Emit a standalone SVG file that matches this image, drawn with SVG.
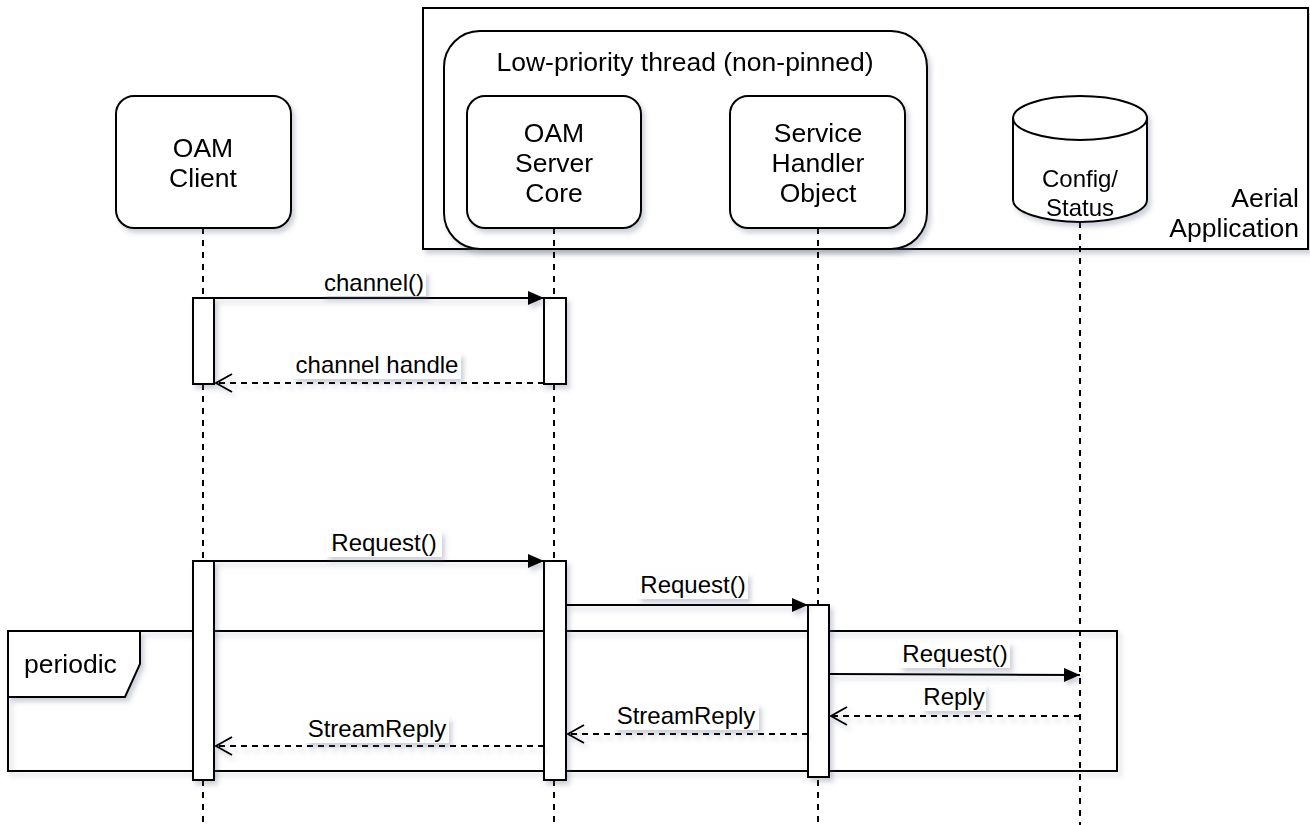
<svg xmlns="http://www.w3.org/2000/svg" width="1310" height="825" viewBox="0 0 1310 825">
  <defs>
    <filter id="shadow" x="-10%" y="-10%" width="130%" height="130%">
      <feDropShadow dx="3" dy="4" stdDeviation="2.5" flood-color="#5a6480" flood-opacity="0.3"/>
    </filter>
    <marker id="block" viewBox="0 0 16 14" refX="16" refY="7" markerWidth="16" markerHeight="14" markerUnits="userSpaceOnUse" orient="auto">
      <path d="M0,0 L16,7 L0,14 Z" fill="#000"/>
    </marker>
    <marker id="open" viewBox="0 0 18 20" refX="17" refY="10" markerWidth="18" markerHeight="20" markerUnits="userSpaceOnUse" orient="auto">
      <path d="M1,1 L17,10 L1,19" fill="none" stroke="#000" stroke-width="2"/>
    </marker>
  </defs>
  <style>
    .box { fill: #fff; stroke: #000; stroke-width: 2; }
    .life { fill: none; stroke: #000; stroke-width: 2; stroke-dasharray: 6 6; }
    .bar { fill: #fff; stroke: #000; stroke-width: 2; }
    .msg { fill: none; stroke: #000; stroke-width: 2; }
    .ret { fill: none; stroke: #000; stroke-width: 2; stroke-dasharray: 6 5; }
    .node { font-family: "Liberation Sans", Arial, Helvetica, sans-serif; font-size: 26.5px; fill: #000; text-anchor: middle; }
    .lbl { font-family: "Liberation Sans", Arial, Helvetica, sans-serif; font-size: 24px; fill: #000; text-anchor: middle; }
    .lblbg { fill: #fff; stroke: none; }
    .sh { filter: url(#shadow); }
  </style>

  <rect width="1310" height="825" fill="#fff"/>

  <!-- application container -->
  <g id="aerial-application" class="sh">
    <rect class="box" x="423" y="8" width="885" height="241"/>
    <text class="node" x="1299" y="207" style="text-anchor:end">Aerial</text>
    <text class="node" x="1299" y="237" style="text-anchor:end">Application</text>
  </g>

  <g id="low-priority-thread" class="sh">
    <rect class="box" x="444" y="31" width="483" height="218" rx="36" ry="36"/>
    <text class="node" x="685" y="71">Low-priority thread (non-pinned)</text>
  </g>

  <!-- lifelines -->
  <g id="lifelines">
    <line class="life" x1="203" y1="228" x2="203" y2="825"/>
    <line class="life" x1="554" y1="228" x2="554" y2="825"/>
    <line class="life" x1="818" y1="228" x2="818" y2="825"/>
    <line class="life" x1="1080" y1="222" x2="1080" y2="825"/>
  </g>

  <g id="oam-client" class="sh">
    <rect class="box" x="116" y="96" width="175" height="132" rx="18" ry="18"/>
    <text class="node" x="203" y="157">OAM</text>
    <text class="node" x="203" y="187">Client</text>
  </g>

  <g id="oam-server-core" class="sh">
    <rect class="box" x="467" y="96" width="174" height="132" rx="18" ry="18"/>
    <text class="node" x="554" y="142">OAM</text>
    <text class="node" x="554" y="172">Server</text>
    <text class="node" x="554" y="202">Core</text>
  </g>

  <g id="service-handler-object" class="sh">
    <rect class="box" x="730" y="96" width="175" height="132" rx="18" ry="18"/>
    <text class="node" x="818" y="142">Service</text>
    <text class="node" x="818" y="172">Handler</text>
    <text class="node" x="818" y="202">Object</text>
  </g>

  <g id="config-status" class="sh">
    <path class="box" d="M1013,118 A67,22 0 0 1 1147,118 L1147,200 A67,22 0 0 1 1013,200 Z"/>
    <path d="M1013,118 A67,22 0 0 0 1147,118" fill="none" stroke="#000" stroke-width="2"/>
    <text class="node" x="1080" y="187" style="font-size:24px">Config/</text>
    <text class="node" x="1080" y="216" style="font-size:24px">Status</text>
  </g>

  <!-- combined fragment -->
  <g id="periodic-frame" class="sh">
    <rect x="8" y="631" width="1109" height="140" fill="none" stroke="#000" stroke-width="2"/>
    <path class="box" d="M8,631 L140,631 L140,664 L125,697 L8,697 Z"/>
    <text class="node" x="24" y="673" style="text-anchor:start">periodic</text>
  </g>

  <!-- activation bars -->
  <g id="activations" class="sh">
    <rect class="bar" x="193" y="298" width="21" height="86"/>
    <rect class="bar" x="544" y="298" width="22" height="86"/>
    <rect class="bar" x="193" y="561" width="21" height="219"/>
    <rect class="bar" x="544" y="561" width="22" height="219"/>
    <rect class="bar" x="808" y="605" width="21" height="172"/>
  </g>

  <!-- messages -->
  <g id="connectors">
    <g class="sh">
      <line class="msg" x1="214" y1="298" x2="544" y2="298" marker-end="url(#block)"/>
      <line class="ret" x1="544" y1="383" x2="216" y2="383" marker-end="url(#open)"/>
      <line class="msg" x1="214" y1="561" x2="544" y2="561" marker-end="url(#block)"/>
      <line class="msg" x1="566" y1="605" x2="808" y2="605" marker-end="url(#block)"/>
      <line class="msg" x1="829" y1="674" x2="1080" y2="675" marker-end="url(#block)"/>
      <line class="ret" x1="1080" y1="716" x2="831" y2="716" marker-end="url(#open)"/>
      <line class="ret" x1="808" y1="734" x2="568" y2="734" marker-end="url(#open)"/>
      <line class="ret" x1="544" y1="746" x2="216" y2="746" marker-end="url(#open)"/>
    </g>
    <g class="sh">
      <rect class="lblbg" x="322" y="271" width="104" height="25"/>
      <rect class="lblbg" x="293" y="353" width="168" height="26"/>
      <rect class="lblbg" x="326" y="531" width="116" height="26"/>
      <rect class="lblbg" x="638" y="573" width="110" height="26"/>
      <rect class="lblbg" x="900" y="642" width="110" height="26"/>
      <rect class="lblbg" x="922" y="685" width="64" height="26"/>
      <rect class="lblbg" x="614" y="704" width="145" height="26"/>
      <rect class="lblbg" x="305" y="717" width="144" height="26"/>
    </g>
    <text class="lbl" x="374" y="291">channel()</text>
    <text class="lbl" x="377" y="373">channel handle</text>
    <text class="lbl" x="384" y="551">Request()</text>
    <text class="lbl" x="693" y="593">Request()</text>
    <text class="lbl" x="955" y="662">Request()</text>
    <text class="lbl" x="954" y="705">Reply</text>
    <text class="lbl" x="686" y="724">StreamReply</text>
    <text class="lbl" x="377" y="737">StreamReply</text>
  </g>
</svg>
